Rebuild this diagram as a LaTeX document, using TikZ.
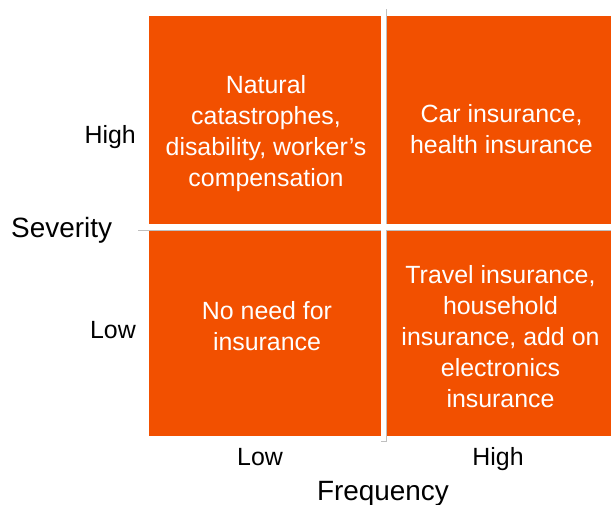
\documentclass[tikz,border=0pt]{standalone}
\usepackage{fontspec}
\setmainfont{Liberation Sans}
\definecolor{quad}{RGB}{242,80,0}
\definecolor{bargray}{RGB}{191,191,191}
\begin{document}
\begin{tikzpicture}[x=1bp,y=-1bp,
  quadfill/.style={fill=quad},
  barline/.style={draw=bargray, line width=0.8bp, fill=white},
  quadtext/.style={text=white, align=center, anchor=north, inner sep=0pt,
    font=\fontsize{25}{31}\selectfont},
  ticklabel/.style={inner sep=0pt, font=\fontsize{25}{30}\selectfont},
  axistitle/.style={inner sep=0pt, font=\fontsize{28}{33}\selectfont}]
\useasboundingbox (0,0) rectangle (611,505);
% quadrants
\fill[quadfill] (149,16) rectangle (381,224);
\fill[quadfill] (386,16) rectangle (611,224);
\fill[quadfill] (149,230) rectangle (381,436);
\fill[quadfill] (386,230) rectangle (611,436);
% axis bars
\draw[barline] (381,9) rectangle (386,441);
\draw[barline] (138,224) rectangle (611,230);
\fill[white] (381.4,9.4) rectangle (385.6,440.6);
\fill[white] (138.4,224.4) rectangle (611,229.6);
% quadrant texts
\node[quadtext] (tl) at (266,71.8) {\strut Natural\\\strut catastrophes,\\\strut disability, worker’s\\\strut compensation};
\node[quadtext] (tr) at (501.5,100.8) {\strut Car insurance,\\\strut health insurance};
\node[quadtext] (bl) at (267,297.8) {\strut No need for\\\strut insurance};
\node[quadtext] (br) at (500.5,261.8) {\strut Travel insurance,\\\strut household\\\strut insurance, add on\\\strut electronics\\\strut insurance};
% labels
\node[ticklabel, anchor=base east] (yhigh) at (136,143.5) {High};
\node[ticklabel, anchor=base east] (ylow) at (136,338) {Low};
\node[axistitle, anchor=base west] (sev) at (11,238) {Severity};
\node[ticklabel, anchor=base] (xlow) at (260,465) {Low};
\node[ticklabel, anchor=base] (xhigh) at (498,465) {High};
\node[axistitle, anchor=base] (freq) at (383,500) {Frequency};
\end{tikzpicture}
\end{document}
